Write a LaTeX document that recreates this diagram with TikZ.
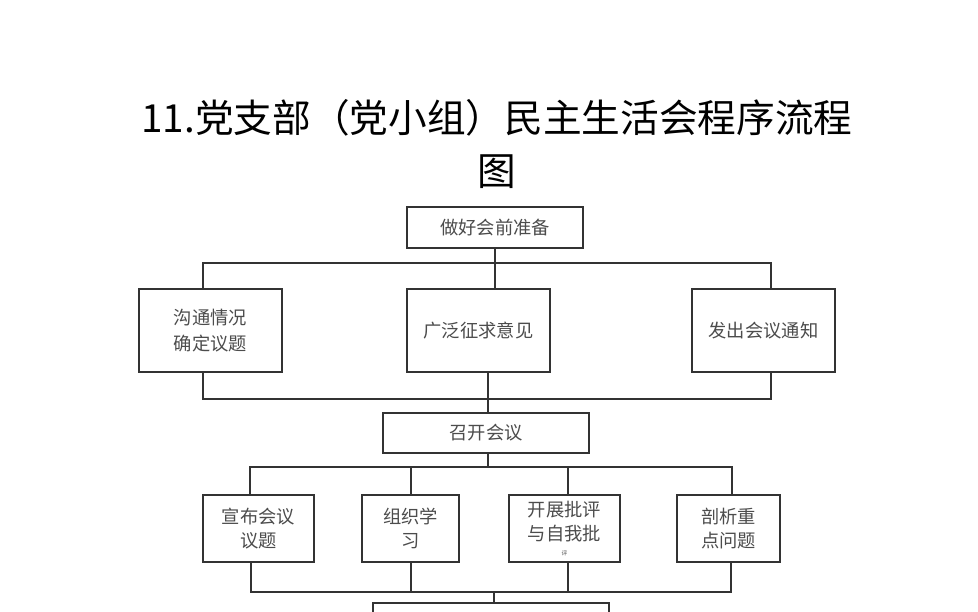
\documentclass[tikz,border=0pt]{standalone}
\usepackage{fontspec}
\setmainfont{Noto Sans CJK SC}
\tikzset{
  box/.style={draw=black!80, line width=1.2pt, fill=white, align=center, inner sep=2pt,
    text=black!70, font=\fontsize{13}{17}\selectfont},
  conn/.style={draw=black!80, line width=1pt}
}
\begin{document}
\begin{tikzpicture}[x=0.025cm,y=-0.025cm]
    \useasboundingbox (0,0) rectangle (978,611);
    \clip (0,0) rectangle (978,611);
    \node[font=\fontsize{27.5}{32}\selectfont] (title) at (497,118) {11.党支部（党小组）民主生活会程序流程};
    \node[font=\fontsize{27.5}{32}\selectfont] (title2) at (497,172) {图};
    % preparation
    \node[box, minimum width=4.4cm, minimum height=1.025cm] (prep) at (495,227.5) {做好会前准备};
    \node[box, minimum width=3.575cm, minimum height=2.075cm, font=\fontsize{13}{18.5}\selectfont] (goutong) at (210.5,330.5) {沟通情况\\确定议题};
    \node[box, minimum width=3.575cm, minimum height=2.075cm] (zhengqiu) at (478.5,330.5) {广泛征求意见};
    \node[box, minimum width=3.575cm, minimum height=2.075cm] (tongzhi) at (763.5,330.5) {发出会议通知};
    \draw[conn] (prep) -- (zhengqiu.north -| prep);
    \draw[conn] (goutong.north -| 203,0) -- (203,263) -- (771,263) -- (tongzhi.north -| 771,0);
    \draw[conn] (goutong.south -| 203,0) -- (203,399) -- (771,399) -- (tongzhi.south -| 771,0);
    % meeting
    \node[box, minimum width=5.15cm, minimum height=1cm] (zhaokai) at (486,433) {召开会议};
    \draw[conn] (zhengqiu.south -| 488,0) -- (zhaokai.north -| 488,0);
    \node[box, minimum width=2.775cm, minimum height=1.675cm] (xuanbu) at (258.5,528.5) {宣布会议\\议题};
    \node[box, minimum width=2.425cm, minimum height=1.675cm] (xuexi) at (410.5,528.5) {组织学\\习};
    \node[box, minimum width=2.775cm, minimum height=1.675cm] (piping) at (564.5,528.5) {开展批评\\与自我批\\[-6pt]{\fontsize{4}{4}\selectfont 评}};
    \node[box, minimum width=2.575cm, minimum height=1.675cm] (pouxi) at (728.5,528.5) {剖析重\\点问题};
    \node[box, minimum width=5.9cm, minimum height=1.35cm] (next) at (491,630) {};
    \draw[conn] (zhaokai.south -| 488,0) -- (488,467);
    \draw[conn] (xuanbu.north -| 250,0) -- (250,467) -- (732,467) -- (pouxi.north -| 732,0);
    \draw[conn] (xuanbu.south -| 251,0) -- (251,592) -- (731,592) -- (pouxi.south -| 731,0);
    \foreach \n/\x in {xuexi/411,piping/568} {
        \draw[conn] (\n.north -| \x,0) -- (\x,467);
        \draw[conn] (\n.south -| \x,0) -- (\x,592);
    }
    \draw[conn] (next.north -| 494,0) -- (494,592);
\end{tikzpicture}
\end{document}
